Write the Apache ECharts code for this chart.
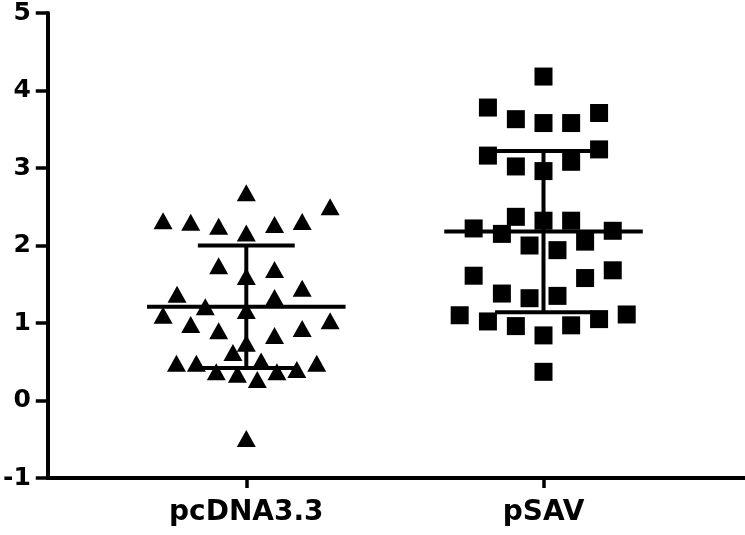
<!DOCTYPE html>
<html lang="en">

<head>
    <meta charset="UTF-8">
    <title>Document</title>
    <script src="https://cdn.jsdelivr.net/npm/echarts@6/dist/echarts.min.js"></script>
    <style>
        html, body { margin: 0; padding: 0; background: #fff; }
    </style>
</head>

<body>
    <div id="main" style="width: 745px;height:535px;"></div>
    <script type="text/javascript">
        // groups on the x axis (1 = pcDNA3.3, 2 = pSAV)
        var categories = ['pcDNA3.3', 'pSAV'];
        var yTicks = [-1, 0, 1, 2, 3, 4, 5];

        // pcDNA3.3 values (triangles) and their horizontal scatter offsets
        var triVals = [2.68, 2.50, 2.32, 2.30, 2.25, 2.16, 2.27, 2.31, 1.74, 1.69,
            1.60, 1.45, 1.37, 1.33, 1.21, 1.10, 1.16, 1.03, 0.98, 0.90,
            0.84, 0.93, 0.74, 0.62, 0.48, 0.48, 0.51, 0.48, 0.37, 0.34,
            0.27, 0.37, 0.40, -0.49];
        var triOffsets = [0, 0.282, -0.280, -0.187, -0.093, 0, 0.095, 0.188, -0.093, 0.095,
            0, 0.188, -0.233, 0.095, -0.138, -0.280, 0, 0.282, -0.187, -0.093,
            0.095, 0.188, 0, -0.045, -0.235, -0.168, 0.050, 0.237, -0.101, -0.030,
            0.037, 0.103, 0.170, 0];

        // pSAV values (squares) and offsets
        var sqVals = [4.18, 3.78, 3.63, 3.58, 3.58, 3.71, 3.16, 3.02, 2.96, 3.08,
            3.24, 2.37, 2.32, 2.32, 2.22, 2.15, 2.19, 2.00, 1.94, 2.05,
            1.61, 1.58, 1.68, 1.38, 1.32, 1.35, 1.10, 1.02, 0.96, 0.84,
            0.97, 1.05, 1.11, 0.37];
        var sqOffsets = [0, -0.187, -0.093, 0, 0.093, 0.187, -0.187, -0.093, 0, 0.093,
            0.187, -0.093, 0, 0.093, -0.235, -0.140, 0.233, -0.047, 0.047, 0.140,
            -0.235, 0.140, 0.233, -0.140, -0.047, 0.047, -0.282, -0.187, -0.093, 0,
            0.093, 0.187, 0.280, 0];

        // mean and SD per group
        var means = [1.21, 2.18];
        var sds = [0.79, 1.04];

        var triData = triVals.map(function (v, i) { return [1 + triOffsets[i], v]; });
        var sqData = sqVals.map(function (v, i) { return [2 + sqOffsets[i], v]; });
        var statData = means.map(function (m, i) { return [i + 1, m, sds[i]]; });

        var chartDom = document.getElementById('main');
        var myChart = echarts.init(chartDom);
        var font = 'DejaVu Sans, sans-serif';

        function renderStat(params, api) {
            var x = api.value(0), m = api.value(1), sd = api.value(2);
            var style = { stroke: '#000', lineWidth: 4 };
            function seg(x1, y1, x2, y2) {
                var a = api.coord([x1, y1]), b = api.coord([x2, y2]);
                return { type: 'line', shape: { x1: a[0], y1: a[1], x2: b[0], y2: b[1] }, style: style };
            }
            return {
                type: 'group',
                children: [
                    seg(x - 0.334, m, x + 0.334, m),
                    seg(x, m - sd, x, m + sd),
                    seg(x - 0.163, m + sd, x + 0.163, m + sd),
                    seg(x - 0.163, m - sd, x + 0.163, m - sd)
                ]
            };
        }

        var option = {
            animation: false,
            grid: { left: 46, right: 0, top: 13, bottom: 57 },
            xAxis: {
                type: 'value',
                min: 0.332,
                max: 2.678,
                splitLine: { show: false },
                axisLine: { onZero: false, lineStyle: { color: '#000', width: 4 } },
                axisTick: { customValues: [1, 2], length: 10, lineStyle: { color: '#000', width: 3.5 } },
                axisLabel: {
                    customValues: [1, 2],
                    formatter: function (v) { return categories[Math.round(v) - 1]; },
                    color: '#000', fontSize: 28, fontWeight: 'bold', fontFamily: font, margin: 21
                }
            },
            yAxis: {
                type: 'value',
                min: yTicks[0],
                max: yTicks[yTicks.length - 1],
                interval: 1,
                splitLine: { show: false },
                axisLine: { show: true, onZero: false, lineStyle: { color: '#000', width: 4 } },
                axisTick: { show: true, length: 12, lineStyle: { color: '#000', width: 3.5 } },
                axisLabel: { color: '#000', fontSize: 25, fontWeight: 'bold', fontFamily: font, margin: 17 }
            },
            series: [{
                name: 'pcDNA3.3',
                type: 'scatter',
                symbol: 'triangle',
                symbolSize: [19, 17],
                itemStyle: { color: '#000', opacity: 1 },
                data: triData
            }, {
                name: 'pSAV',
                type: 'scatter',
                symbol: 'rect',
                symbolSize: [18, 18],
                itemStyle: { color: '#000', opacity: 1 },
                data: sqData
            }, {
                type: 'custom',
                renderItem: renderStat,
                data: statData,
                z: 3
            }]
        };

        option && myChart.setOption(option);
    </script>
</body>

</html>
